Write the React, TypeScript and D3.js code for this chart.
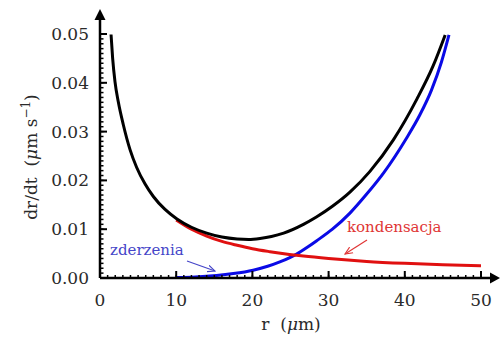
import React from "react";
import * as d3 from "d3";

// values
const blackR = [1.45, 1.66, 1.97, 2.4, 3.06, 3.94, 4.8, 5.9, 7.0, 8.5, 10.1, 12, 14, 16, 18, 19.5, 21, 22.5, 24.1, 26.7, 28.4, 30.5, 32.8, 35.4, 38.5, 41.6, 43.7, 45.3];
const blackV = [0.0499, 0.045, 0.0402, 0.0361, 0.0314, 0.0263, 0.0227, 0.0193, 0.0167, 0.0141, 0.0121, 0.0104, 0.0092, 0.0084, 0.008, 0.0079, 0.0081, 0.0085, 0.0092, 0.011, 0.0125, 0.0147, 0.0176, 0.0218, 0.0283, 0.0367, 0.0434, 0.0498];

const blueR = [10, 12.5, 15.3, 17.5, 20.1, 22, 23.6, 25.8, 27.3, 28.4, 30.5, 32.8, 35, 37.2, 40.2, 42, 43.5, 44.8, 45.8];
const blueV = [0.0001, 0.0002, 0.0005, 0.0009, 0.0016, 0.0024, 0.0033, 0.0049, 0.0064, 0.0076, 0.01, 0.0133, 0.0172, 0.0215, 0.0286, 0.0335, 0.0385, 0.0442, 0.0498];

const redR = [10, 12, 14, 16, 18, 20, 22.3, 26.7, 30, 35, 40, 45, 50];
const redV = [0.0119, 0.01, 0.0086, 0.0075, 0.0067, 0.006, 0.0054, 0.0045, 0.004, 0.0034, 0.003, 0.0027, 0.0025];

const xTicks = [0, 10, 20, 30, 40, 50];
const yTicks = [0, 0.01, 0.02, 0.03, 0.04, 0.05];

const W = 501;
const H = 338;
const font = "'DejaVu Serif', serif";

export default function App() {
  const x = d3.scaleLinear().domain([0, 50]).range([100, 481]);
  const y = d3.scaleLinear().domain([0, 0.05]).range([278, 34]);

  const line = d3
    .line<[number, number]>()
    .x((d) => x(d[0]))
    .y((d) => y(d[1]))
    .curve(d3.curveMonotoneX);

  const pts = (rs: number[], vs: number[]) => rs.map((r, i) => [r, vs[i]] as [number, number]);

  const xMinor = d3.range(0, 50.01, 1);
  const yMinor = d3.range(0, 0.0505, 0.001);

  return (
    <svg width={W} height={H} style={{ position: "absolute", left: 0, top: 0, background: "#fff" }}>
      <defs>
        <marker id="arrB" viewBox="0 0 10 10" refX="9" refY="5" markerWidth="7" markerHeight="7" orient="auto">
          <path d="M0,1 L9,5 L0,9" fill="none" stroke="#4545c8" strokeWidth="1.3" />
        </marker>
        <marker id="arrR" viewBox="0 0 10 10" refX="9" refY="5" markerWidth="7" markerHeight="7" orient="auto">
          <path d="M0,1 L9,5 L0,9" fill="none" stroke="#e03535" strokeWidth="1.3" />
        </marker>
      </defs>

      {/* curves */}
      <path d={line(pts(blueR, blueV)) ?? ""} fill="none" stroke="#0a0ae6" strokeWidth={3} />
      <path d={line(pts(redR, redV)) ?? ""} fill="none" stroke="#e01010" strokeWidth={3} />
      <path d={line(pts(blackR, blackV)) ?? ""} fill="none" stroke="#000" strokeWidth={3} />

      {/* axes */}
      <g stroke="#000">
        <line x1={x(0)} x2={490} y1={y(0)} y2={y(0)} strokeWidth={2.5} />
        <path d={`M490,${y(0) - 5.5} L500,${y(0)} L490,${y(0) + 5.5} Z`} fill="#000" strokeWidth={0} />
        <line x1={x(0)} x2={x(0)} y1={y(0)} y2={20} strokeWidth={2.5} />
        <path d={`M${x(0) - 5.5},20 L${x(0)},9 L${x(0) + 5.5},20 Z`} fill="#000" strokeWidth={0} />
        {xMinor.map((t) => (
          <line key={"xm" + t} x1={x(t)} x2={x(t)} y1={y(0)} y2={y(0) - 3} strokeWidth={1.5} />
        ))}
        {xTicks.map((t) => (
          <line key={"xM" + t} x1={x(t)} x2={x(t)} y1={y(0)} y2={y(0) - 7} strokeWidth={2} />
        ))}
        {yMinor.map((t) => (
          <line key={"ym" + t} x1={x(0)} x2={x(0) + 3.5} y1={y(t)} y2={y(t)} strokeWidth={1.5} />
        ))}
        {yTicks.map((t) => (
          <line key={"yM" + t} x1={x(0)} x2={x(0) + 7} y1={y(t)} y2={y(t)} strokeWidth={2} />
        ))}
      </g>

      {/* tick labels */}
      <g fontFamily={font} fontSize={17} fill="#2a2a2a">
        {xTicks.map((t) => (
          <text key={"xl" + t} x={x(t)} y={306} textAnchor="middle">
            {t}
          </text>
        ))}
        {yTicks.map((t) => (
          <text key={"yl" + t} x={89} y={y(t) + 6} textAnchor="end">
            {d3.format(".2f")(t)}
          </text>
        ))}
        <text x={291} y={330} textAnchor="middle">
          r&#160;&#160;(<tspan fontStyle="italic">μ</tspan>m)
        </text>
        <text transform="translate(37,157) rotate(-90)" textAnchor="middle">
          dr/dt&#160;&#160;(<tspan fontStyle="italic">μ</tspan>m s<tspan dy={-7} fontSize={12}>−1</tspan>
          <tspan dy={7}>)</tspan>
        </text>
      </g>

      {/* annotations */}
      <text x={110} y={255} fontFamily={font} fontSize={15} fill="#4545c8">
        zderzenia
      </text>
      <line x1={187} y1={261} x2={215} y2={271} stroke="#4545c8" strokeWidth={1.2} markerEnd="url(#arrB)" />
      <text x={347} y={232} fontFamily={font} fontSize={15} fill="#e03535">
        kondensacja
      </text>
      <line x1={367} y1={240} x2={345} y2={254} stroke="#e03535" strokeWidth={1.2} markerEnd="url(#arrR)" />
    </svg>
  );
}
